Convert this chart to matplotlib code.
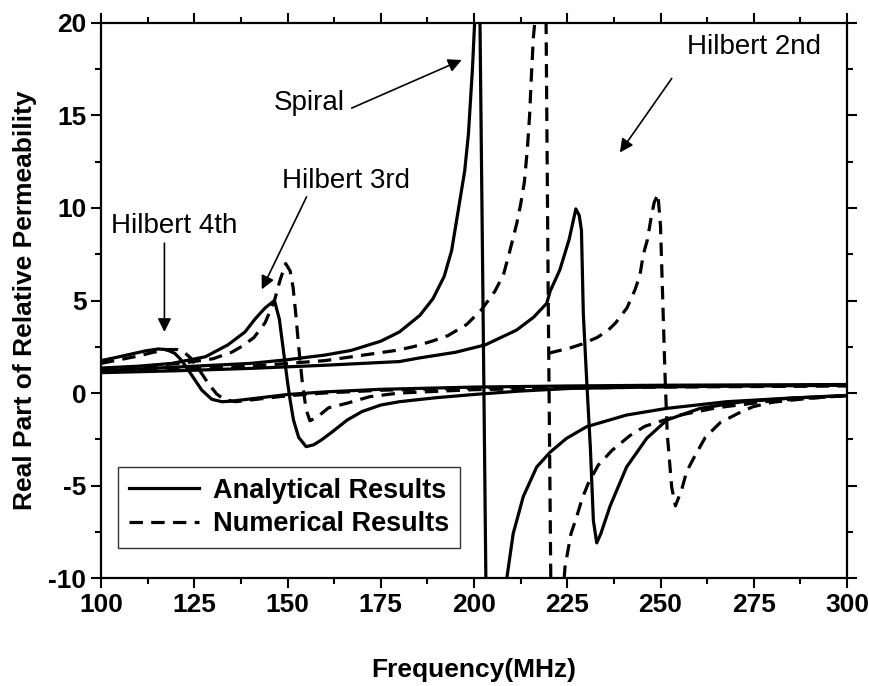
import matplotlib
matplotlib.use("Agg")
import matplotlib.pyplot as plt
from matplotlib.ticker import MultipleLocator

plt.rcParams['font.family'] = ['Liberation Sans', 'DejaVu Sans']
plt.rcParams['axes.unicode_minus'] = False

# Hilbert 4th order
h4_ana_f = [100, 104, 108, 112, 115.4, 117.5, 119.8, 121.2, 122.5, 124.3, 127, 129.7, 132.4, 135,
            141.3, 150, 160, 175, 200, 225, 250, 275, 300]
h4_ana_v = [1.75, 1.92, 2.1, 2.28, 2.38, 2.35, 2.14, 1.85, 1.51, 0.97, 0.16, -0.34, -0.47, -0.44,
            -0.29, -0.08, 0.06, 0.2, 0.32, 0.38, 0.42, 0.44, 0.46]
h4_num_f = [100, 105, 110, 114, 118, 120.5, 122, 124, 126, 127.5, 129, 131, 133, 136, 140, 150,
            160, 175, 200, 225, 250, 275, 300]
h4_num_v = [1.6, 1.8, 2.0, 2.2, 2.35, 2.35, 2.25, 1.9, 1.35, 0.9, 0.45, -0.05, -0.35, -0.47, -0.38,
            -0.15, 0.0, 0.15, 0.26, 0.32, 0.36, 0.39, 0.41]

# Hilbert 3rd order
h3_ana_f = [100, 110, 119, 128, 134, 138.6, 141.3, 144, 146.5, 147.8, 148.9, 150, 150.7, 151.6,
            153, 155, 157, 159, 162, 166, 170, 175, 180, 190, 200, 212, 226, 250, 275, 300]
h3_ana_v = [1.35, 1.45, 1.6, 1.96, 2.6, 3.3, 4.0, 4.6, 5.0, 4.0, 2.3, 0.6, -0.38, -1.46,
            -2.4, -2.9, -2.8, -2.55, -2.1, -1.46, -1.0, -0.65, -0.47, -0.25, -0.08, 0.1, 0.25,
            0.33, 0.38, 0.42]
h3_num_f = [100, 110, 122, 130, 135, 138, 141, 144, 146.5, 148, 149.5, 150.7, 151.5, 152.2, 153,
            154, 155, 156, 158, 161, 166, 172, 180, 200, 225, 250, 300]
h3_num_v = [1.3, 1.42, 1.62, 1.85, 2.2, 2.55, 3.0, 3.8, 5.0, 6.1, 7.0, 6.6, 5.7, 4.3, 2.5,
            0.5, -0.9, -1.5, -1.3, -0.8, -0.55, -0.2, 0.0, 0.18, 0.27, 0.32, 0.38]

# Spiral
sp_ana_f = [100, 110, 120, 130, 140, 150, 160, 167, 175, 180, 185.5, 189, 192, 194, 196.2, 197.5,
            198.5, 199.6, 200.2, 200.9, 201.6, 202.4, 203.2, 204, 206, 208.8, 210.5, 213.2,
            216.8, 220.4, 224.8, 230.2, 240.9, 251.7, 267.7, 285, 300]
sp_ana_v = [1.22, 1.3, 1.4, 1.5, 1.6, 1.8, 2.05, 2.3, 2.8, 3.3, 4.2, 5.1, 6.3, 7.7, 10.4, 12,
            14, 17.6, 20.2, 22, 20, 5, -10.5, -18, -16, -10, -7.6, -5.6,
            -4.0, -3.2, -2.45, -1.82, -1.19, -0.83, -0.47, -0.27, -0.13]
sp_num_f = [100, 120, 140, 160, 179, 183.7, 188.7, 193, 198, 202, 205.6, 207.9, 209.5, 211.5,
            212.5, 213.5, 214.3, 214.9, 215.35, 215.9, 217, 218.5, 219.3, 219.9, 220.6, 221.5,
            223, 224.4, 226, 227.5, 229, 230.6, 233.3, 237, 241.8, 245.8, 255, 265, 280, 300]
sp_num_v = [1.15, 1.3, 1.45, 1.75, 2.3, 2.5, 2.8, 3.1, 3.7, 4.5, 5.5, 6.4, 7.6, 9.2,
            10.2, 11.4, 13.2, 15, 17, 19.2, 21.5, 22, 20.5, 5, -10.5, -16,
            -13, -9.4, -7.6, -6.7, -5.7, -4.9, -3.9, -3.1, -2.3, -1.8, -1.2, -0.8, -0.42, -0.14]

# Hilbert 2nd order
h2_ana_f = [100, 120, 140, 160, 180, 185.5, 195, 203, 211.4, 216, 219.5, 220.4, 223, 225.5,
            227.3, 228.2, 228.8, 229.3, 230.2, 231.2, 232, 232.9, 234, 236.5, 240.9, 246.3,
            251.7, 260.6, 272, 285, 300]
h2_ana_v = [1.1, 1.2, 1.33, 1.5, 1.7, 1.9, 2.2, 2.6, 3.4, 4.1, 4.85, 5.5, 6.65, 8.3,
            9.95, 9.6, 8.8, 4.3, 0.7, -3, -6.9, -8.1, -7.6, -6.1, -4.0, -2.45,
            -1.46, -0.83, -0.47, -0.28, -0.14]
h2_num_f = [220, 223, 226, 229, 233, 236, 238, 241, 243.2, 244.5, 245.4, 246.5, 247.5, 248.3,
            249.3, 250, 250.6, 251.2, 251.8, 253, 254, 255.7, 257, 259.2, 262, 266, 270.8,
            274.8, 280, 290, 300]
h2_num_v = [2.15, 2.3, 2.45, 2.65, 3.0, 3.4, 3.8, 4.6, 5.6, 6.4, 7.5, 8.3, 9.5, 10.3,
            10.75, 9.0, 5.0, 1.0, -2.2, -5.1, -6.1, -5.2, -4.25, -3.4, -2.4, -1.6, -1.1,
            -0.74, -0.5, -0.28, -0.14]

fig = plt.figure(figsize=(8.7, 6.86), dpi=100)
ax = fig.add_axes([0.1161, 0.1574, 0.8575, 0.8091])

lw = 2.3
dash = (4.2, 2.6)
solid = dict(color='k', lw=lw, solid_joinstyle='round')
dashed = dict(color='k', lw=lw, ls=(0, dash), dash_capstyle='butt')

ax.plot(h4_ana_f, h4_ana_v, **solid, label='Analytical Results')
ax.plot(h4_num_f, h4_num_v, **dashed, label='Numerical Results')
ax.plot(h3_ana_f, h3_ana_v, **solid)
ax.plot(h3_num_f, h3_num_v, **dashed)
ax.plot(sp_ana_f, sp_ana_v, **solid)
ax.plot(sp_num_f, sp_num_v, **dashed)
ax.plot(h2_ana_f, h2_ana_v, **solid)
ax.plot(h2_num_f, h2_num_v, **dashed)

ax.set_xlim(100, 300)
ax.set_ylim(-10, 20)
ax.xaxis.set_major_locator(MultipleLocator(25))
ax.xaxis.set_minor_locator(MultipleLocator(12.5))
ax.yaxis.set_major_locator(MultipleLocator(5))
ax.yaxis.set_minor_locator(MultipleLocator(2.5))
ax.tick_params(which='both', direction='out', width=1.5, labelsize=19,
               top=True, right=True)
ax.tick_params(which='major', length=7)
ax.tick_params(which='minor', length=4)
for t in ax.get_xticklabels() + ax.get_yticklabels():
    t.set_fontweight('bold')
for s in ax.spines.values():
    s.set_linewidth(1.6)

ax.set_xlabel('Frequency(MHz)', fontsize=19, fontweight='bold', labelpad=30)
ax.set_ylabel('Real Part of Relative Permeability', fontsize=19, fontweight='bold', labelpad=8)

leg = ax.legend(loc='lower left', bbox_to_anchor=(0.023, 0.054), borderaxespad=0,
                fancybox=False, edgecolor='k', handlelength=2.6, handletextpad=0.5,
                labelspacing=0.28, borderpad=0.4, prop={'weight': 'bold', 'size': 19.5})
leg.get_frame().set_linewidth(1.0)

# structure labels with arrows
arrow = dict(arrowstyle='-|>', color='k', lw=1.2, mutation_scale=20, shrinkA=0, shrinkB=0)
ax.text(119.6, 9.0, 'Hilbert 4th', fontsize=20, ha='center', va='center')
ax.annotate('', xy=(117, 3.3), xytext=(117, 8.1), arrowprops=arrow)
ax.text(165.7, 11.46, 'Hilbert 3rd', fontsize=20, ha='center', va='center')
ax.annotate('', xy=(143.1, 5.6), xytext=(155.1, 10.6), arrowprops=arrow)
ax.text(155.8, 15.7, 'Spiral', fontsize=20, ha='center', va='center')
ax.annotate('', xy=(196.7, 18.0), xytext=(167.2, 15.4), arrowprops=arrow)
ax.text(275, 18.7, 'Hilbert 2nd', fontsize=20, ha='center', va='center')
ax.annotate('', xy=(239.1, 13.0), xytext=(253, 17.0), arrowprops=arrow)

fig.savefig('out.png', dpi=100)
